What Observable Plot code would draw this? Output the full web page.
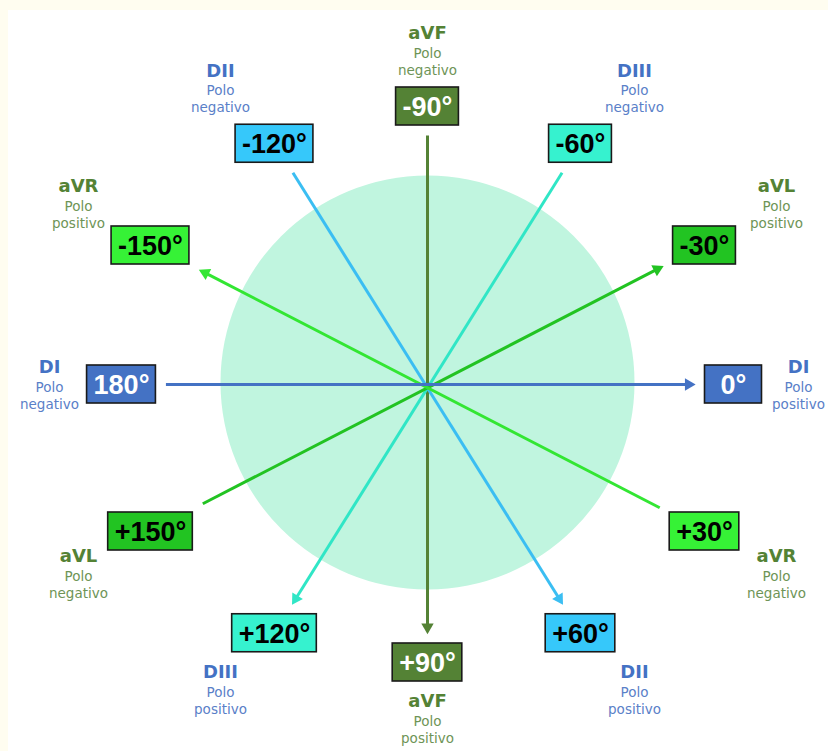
<!DOCTYPE html>
<html><head><meta charset="utf-8">
<script src="https://cdn.jsdelivr.net/npm/d3@7"></script>
<script src="https://cdn.jsdelivr.net/npm/@observablehq/plot@0.6"></script>
<style>
html,body{margin:0;padding:0;background:#fffdf0;overflow:hidden;}
#panel{position:absolute;left:8px;top:10px;width:820px;height:741px;background:#fff;overflow:hidden;}
#chart{position:absolute;left:-8px;top:-10px;}
</style></head><body><div id="panel"><div id="chart"></div></div>
<script>
// ---- data ----
const angles      = [-150, -120, -90, -60, -30, 0, 30, 60, 90, 120, 150, 180];
const angleLabels = ["-150°","-120°","-90°","-60°","-30°","0°","+30°","+60°","+90°","+120°","+150°","180°"];
const angleLead   = ["aVR","DII","aVF","DIII","aVL","DI","aVR","DII","aVF","DIII","aVL","DI"];
const anglePole   = ["positivo","negativo","negativo","negativo","positivo","positivo","negativo","positivo","positivo","positivo","negativo","negativo"];
const leads         = ["aVF","DIII","DII","aVL","aVR","DI"];
const positiveAngle = [90, 120, 60, -30, -150, 0];
const poleWord = "Polo";

// ---- styles ----
const lineColor = {DI:"#4472C4", DII:"#3bbef2", DIII:"#30e6c6", aVR:"#33e633", aVL:"#22c322", aVF:"#548235"};
const boxColor  = {DI:"#4472C4", DII:"#36c8fa", DIII:"#36f2cf", aVR:"#36f236", aVL:"#22c422", aVF:"#548235"};
const boxText   = {DI:"#ffffff", DII:"#000000", DIII:"#000000", aVR:"#000000", aVL:"#000000", aVF:"#ffffff"};
const nameColor = {DI:"#4472C4", DII:"#4472C4", DIII:"#4472C4", aVR:"#548235", aVL:"#548235", aVF:"#548235"};
const poleColor = {DI:"#5a80c8", DII:"#5a80c8", DIII:"#5a80c8", aVR:"#6e9456", aVL:"#6e9456", aVF:"#6e9456"};

// ---- layout ----
const W = 828, H = 751;
const cx = 427, cy = 384;           // centre of the figure
const rx = 306, ry = 278;           // ellipse on which the boxes sit
const boxFont = "bold 27px 'Liberation Sans'";
const ctx = document.createElement("canvas").getContext("2d");
ctx.font = boxFont;
const clamp = v => Math.max(-1, Math.min(1, v));
const rows = angles.map((a, i) => {
  const t = a * Math.PI / 180;
  const c = Math.cos(t), s = Math.sin(t);
  const push = Math.abs(c) > 1e-6 ? 12 * Math.sign(c) * Math.abs(Math.sin(3 * t)) : 0;
  const dx = rx * c + push;
  const dy = ry * s + (s > 0.1 && s < 0.95 ? 8 : 0);
  const w = Math.max(57, ctx.measureText(angleLabels[i]).width + 13);
  const h = 38;
  const bx = cx + dx, by = cy + dy;
  const lx = Math.max(34, Math.min(W - 30, bx + 72 * clamp(1.5 * c)));
  const ly = by + 3 + 56 * clamp(1.5 * s);
  return {angle: a, label: angleLabels[i], lead: angleLead[i], pole: anglePole[i],
          dx, dy, bx, by, hw: w / 2, hh: h / 2, lx, ly};
});
const byAngle = new Map(rows.map(r => [r.angle, r]));
const gap = 10;
function endPoint(r) {
  const tx = Math.abs(r.dx) > 1e-6 ? 1 - (r.hw + gap) / Math.abs(r.dx) : -Infinity;
  const ty = Math.abs(r.dy) > 1e-6 ? 1 - (r.hh + gap) / Math.abs(r.dy) : -Infinity;
  const t = Math.max(tx, ty);
  return [cx + t * r.dx, cy + t * r.dy];
}
const lines = leads.map((lead, i) => {
  const pa = positiveAngle[i];
  const na = pa + 180 > 180 ? pa - 180 : pa + 180;
  const [tipX, tipY] = endPoint(byAngle.get(pa));
  const [x1, y1] = endPoint(byAngle.get(na));
  const L = Math.hypot(tipX - cx, tipY - cy);
  const ux = (tipX - cx) / L, uy = (tipY - cy) / L;
  return {lead, x1, y1, x2: tipX - 7 * ux, y2: tipY - 7 * uy,
          hx: tipX - 6.5 * ux, hy: tipY - 6.5 * uy,
          rot: Math.atan2(uy, ux) * 180 / Math.PI + 90};
});

const plot = Plot.plot({
  width: W, height: H,
  margin: 0,
  x: {domain: [0, W], range: [0, W], axis: null},
  y: {domain: [0, H], range: [0, H], axis: null},
  style: {background: "transparent", overflow: "visible"},
  color: {type: "identity"},
  marks: [
    Plot.dot([{x: cx, y: cy - 2}], {x: "x", y: "y", r: 207, fill: "#c0f5df", stroke: "none"}),
    Plot.link(lines, {x1: "x1", y1: "y1", x2: "x2", y2: "y2",
      stroke: d => lineColor[d.lead], strokeWidth: 3}),
    Plot.dot(lines, {x: "hx", y: "hy", symbol: "triangle", r: 4.6, rotate: "rot",
      fill: d => lineColor[d.lead], stroke: "none"}),
    Plot.rect(rows, {x1: d => d.bx - d.hw, x2: d => d.bx + d.hw, y1: d => d.by - d.hh, y2: d => d.by + d.hh,
      fill: d => boxColor[d.lead], stroke: "#1a1a1a", strokeWidth: 1.6}),
    Plot.text(rows, {x: "bx", y: d => d.by + 1, text: "label", fill: d => boxText[d.lead],
      fontFamily: "Liberation Sans", fontWeight: "bold", fontSize: 27, lineAnchor: "middle"}),
    Plot.text(rows, {x: "lx", y: d => d.ly - 20, text: "lead", fill: d => nameColor[d.lead],
      fontFamily: "DejaVu Sans", fontWeight: "bold", fontSize: 18, lineAnchor: "middle"}),
    Plot.text(rows, {x: "lx", y: "ly", text: () => poleWord, fill: d => poleColor[d.lead],
      fontFamily: "DejaVu Sans", fontSize: 13.5, lineAnchor: "middle"}),
    Plot.text(rows, {x: "lx", y: d => d.ly + 17, text: "pole", fill: d => poleColor[d.lead],
      fontFamily: "DejaVu Sans", fontSize: 13.5, lineAnchor: "middle"})
  ]
});
document.getElementById("chart").appendChild(plot);
</script></body></html>
